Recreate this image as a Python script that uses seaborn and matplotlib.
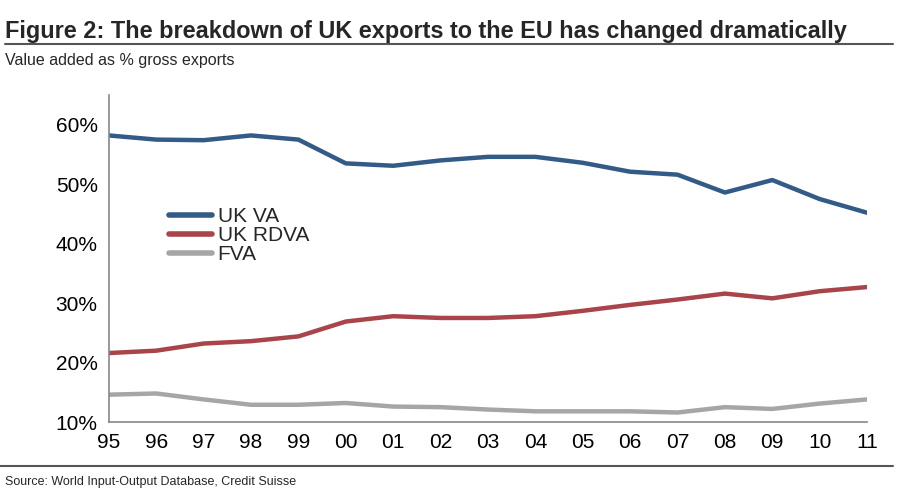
import matplotlib
matplotlib.use('Agg')
import matplotlib.pyplot as plt
import seaborn as sns
import pandas as pd
from matplotlib.ticker import PercentFormatter

# данные
years = ['95', '96', '97', '98', '99', '00', '01', '02', '03', '04',
         '05', '06', '07', '08', '09', '10', '11']
uk_va = [58.2, 57.5, 57.4, 58.2, 57.5, 53.5, 53.1, 54.0, 54.6, 54.6,
         53.6, 52.1, 51.6, 48.6, 50.7, 47.5, 45.2]
uk_rdva = [21.6, 22.0, 23.2, 23.6, 24.4, 26.9, 27.8, 27.5, 27.5, 27.8,
           28.7, 29.7, 30.6, 31.6, 30.8, 32.0, 32.7]
fva = [14.6, 14.8, 13.8, 12.9, 12.9, 13.2, 12.6, 12.5, 12.1, 11.8,
       11.8, 11.8, 11.6, 12.5, 12.2, 13.1, 13.8]

series_names = ['UK VA', 'UK RDVA', 'FVA']
colors = ['#335b87', '#a9444a', '#a6a6a6']

df = pd.DataFrame({'year': years, 'UK VA': uk_va, 'UK RDVA': uk_rdva, 'FVA': fva})
df['pos'] = range(len(years))
long_df = df.melt(id_vars=['year', 'pos'], value_vars=series_names,
                  var_name='series', value_name='value')

sns.set_style('white')
plt.rcParams['font.family'] = ['Liberation Sans', 'DejaVu Sans']

fig = plt.figure(figsize=(9.07, 4.91), dpi=100)
ax = fig.add_axes([0.120, 0.1405, 0.836, 0.666])

sns.lineplot(data=long_df, x='pos', y='value', hue='series', hue_order=series_names,
             palette=colors, linewidth=3.2, ax=ax, legend=False)

ax.set_xlim(0, len(years) - 1)
ax.set_ylim(10, 65)
ax.set_yticks([10, 20, 30, 40, 50, 60])
ax.yaxis.set_major_formatter(PercentFormatter(decimals=0))
ax.set_xticks(df['pos'])
ax.set_xticklabels(years)
ax.set_xlabel('')
ax.set_ylabel('')

for s in ['top', 'right']:
    ax.spines[s].set_visible(False)
for s in ['left', 'bottom']:
    ax.spines[s].set_color('#888888')
    ax.spines[s].set_linewidth(1.2)
ax.tick_params(axis='both', labelsize=15, colors='#888888', labelcolor='black',
               direction='out', length=5, width=1.2, pad=3)

# легенда
handles = [plt.Line2D([], [], color=c, linewidth=4) for c in colors]
ax.legend(handles, series_names, loc='upper left', bbox_to_anchor=(0.068, 0.682),
          frameon=False, fontsize=15, handlelength=2.1, handletextpad=0.25,
          labelspacing=0.0, borderaxespad=0)

# заголовки и подписи
fig.text(0.006, 0.936, 'Figure 2: The breakdown of UK exports to the EU has changed dramatically',
         fontsize=16.9, fontweight='bold', ha='left', va='center')
fig.add_artist(plt.Line2D([0.006, 0.985], [0.911, 0.911], color='#555555', linewidth=1.5))
fig.text(0.006, 0.877, 'Value added as % gross exports', fontsize=11.5, ha='left', va='center')
fig.add_artist(plt.Line2D([0.0, 0.985], [0.050, 0.050], color='#555555', linewidth=1.5))
fig.text(0.006, 0.018, 'Source: World Input-Output Database, Credit Suisse', fontsize=9,
         ha='left', va='center')

fig.savefig('out.png', dpi=100)
